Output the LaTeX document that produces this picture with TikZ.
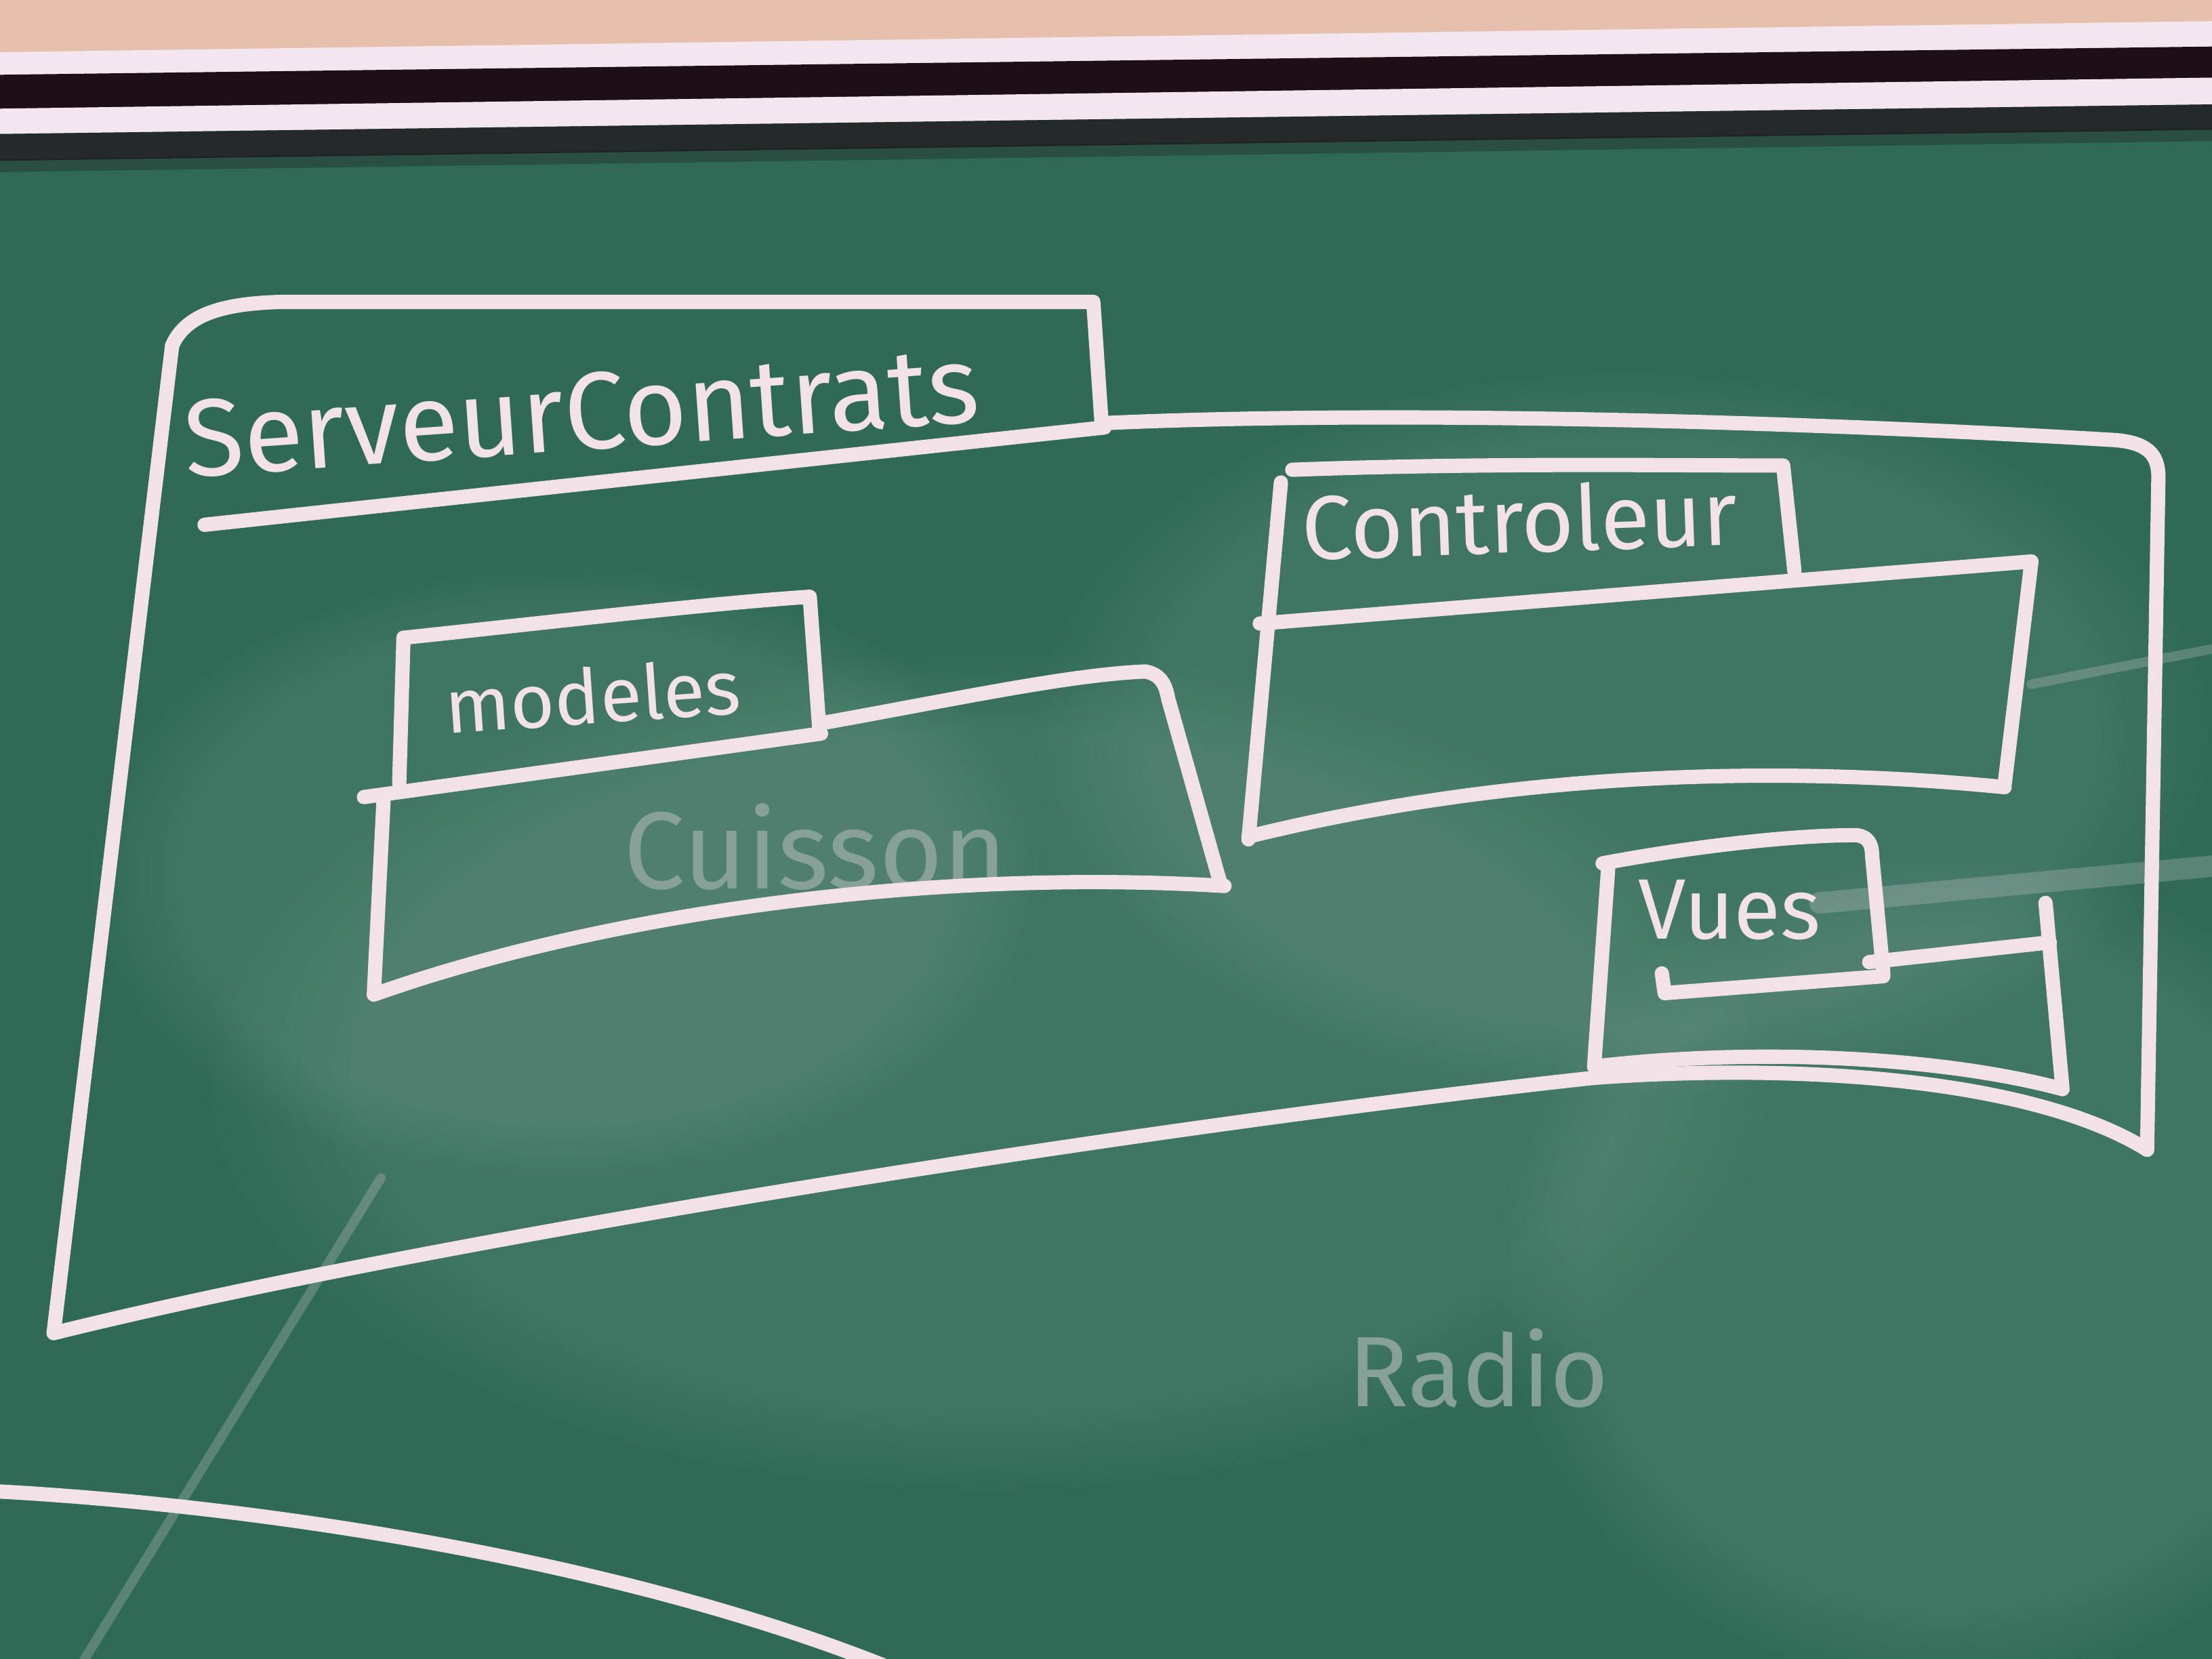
\documentclass[tikz,border=0pt]{standalone}
\usepackage{fontspec}
\setmainfont{Fira Sans}
\usepackage{tikz}
\usetikzlibrary{calc, fadings}
\definecolor{WallBeige}{HTML}{E6C0AC}
\definecolor{FrameWhite}{HTML}{F4E6EE}
\definecolor{FrameDark}{HTML}{1E0F16}
\definecolor{BoardGreen}{HTML}{2F6A56}
\definecolor{ChalkWhite}{HTML}{F3E1E8}
\tikzset{
  % Chalk styles
  chalk/.style={draw=ChalkWhite, line width=6pt, line cap=round, line join=round},
  chalkfaint/.style={draw=ChalkWhite, line width=9pt, line cap=round, opacity=0.22},
  haze/.style={fill=white, opacity=0.08, path fading=circle with fuzzy edge 20 percent},
  % Text styles
  pkglabel/.style={text=ChalkWhite, inner sep=0pt, font=\fontsize{#1}{#1}\selectfont},
  pkglabel/.default=40,
  ghostlabel/.style={text=ChalkWhite!45!BoardGreen, inner sep=0pt, font=\fontsize{#1}{#1}\selectfont}
}

\begin{document}
\begin{tikzpicture}[x=0.020816cm, y=-0.020816cm]
  \useasboundingbox (0,0) rectangle (1568,1176);
  \begin{scope}
  \clip (0,0) rectangle (1568,1176);

  % Wall and board frame
  \fill[WallBeige] (0,0) rectangle (1568,40);
  \fill[FrameWhite] (0,37) -- (1568,15) -- (1568,34) -- (0,54) -- cycle;
  \fill[FrameDark] (0,53) -- (1568,33) -- (1568,56) -- (0,78) -- cycle;
  \fill[FrameWhite] (0,77) -- (1568,55) -- (1568,75) -- (0,96) -- cycle;
  \fill[BoardGreen] (0,95) -- (1568,74) -- (1568,1176) -- (0,1176) -- cycle;
  \fill[FrameDark, opacity=0.7] (0,95) -- (1568,74) -- (1568,92) -- (0,114) -- cycle;
  \fill[FrameDark, opacity=0.3] (0,113) -- (1568,91) -- (1568,100) -- (0,122) -- cycle;

  % Erased chalk haze
  \fill[haze] (700,760) ellipse (560 and 300);
  \fill[haze] (1150,520) ellipse (420 and 260);
  \fill[haze] (400,620) ellipse (340 and 220);
  \fill[haze] (1380,900) ellipse (320 and 300);
  \draw[chalkfaint] (1290,640) -- (1568,614);
  \draw[chalkfaint, line width=4pt] (270,835) -- (60,1176);
  \draw[chalkfaint, line width=4pt] (1440,485) -- (1568,460);

  % Ghost text left from earlier writing
  \node[ghostlabel=46] (cuisson) at (578,600) {Cuisson};
  \node[ghostlabel=42] (radio) at (1048,970) {Radio};

  % Package ServeurContrats
  \draw[chalk] (122,245) .. controls (132,222) and (160,215) .. (200,214)
    -- (775,214) -- (781,302);
  \draw[chalk] (145,372) -- (783,303);
  \draw[chalk] (781,300) .. controls (1000,290) and (1300,300) .. (1500,312)
    .. controls (1522,314) and (1530,322) .. (1530,338) -- (1522,815);
  \draw[chalk] (1522,815) .. controls (1450,770) and (1300,752) .. (1130,764)
    .. controls (800,800) and (300,880) .. (38,945) -- (122,245);
  \node[pkglabel=46, rotate=4] (serveur) at (412,292) {ServeurContrats};

  % Package modeles
  \draw[chalk] (287,452) .. controls (400,440) and (500,428) .. (574,423) -- (581,520);
  \draw[chalk] (286,452) -- (283,555);
  \draw[chalk] (258,565) -- (582,520);
  \draw[chalk] (586,512) .. controls (680,495) and (760,478) .. (812,476)
    .. controls (822,478) and (826,484) .. (828,495) -- (865,626);
  \draw[chalk] (868,628) .. controls (650,615) and (420,650) .. (265,705) -- (272,565);
  \node[pkglabel=32, rotate=4] (modeles) at (420,493) {modeles};

  % Package Controleur
  \draw[chalk] (916,333) .. controls (1050,328) and (1180,330) .. (1264,330) -- (1272,405);
  \draw[chalk] (908,342) -- (885,595);
  \draw[chalk] (893,442) -- (1440,398) -- (1421,556);
  \draw[chalk] (1421,558) .. controls (1300,546) and (1100,540) .. (885,593);
  \node[pkglabel=38, rotate=2] (controleur) at (1077,368) {Controleur};

  % Package Vues
  \draw[chalk] (1136,612) .. controls (1200,600) and (1270,592) .. (1316,592)
    .. controls (1324,593) and (1327,598) .. (1327,606) -- (1335,690);
  \draw[chalk] (1178,690) -- (1180,704) -- (1335,692);
  \draw[chalk] (1325,682) -- (1453,668);
  \draw[chalk] (1450,640) -- (1462,772);
  \draw[chalk] (1140,615) -- (1130,756);
  \draw[chalk] (1130,756) .. controls (1250,742) and (1380,750) .. (1462,772);
  \node[pkglabel=36] (vues) at (1226,645) {Vues};

  % Long chalk stroke at the bottom
  \draw[chalk] (-5,1057) .. controls (200,1068) and (450,1110) .. (630,1182);
  \end{scope}
\end{tikzpicture}
\end{document}
